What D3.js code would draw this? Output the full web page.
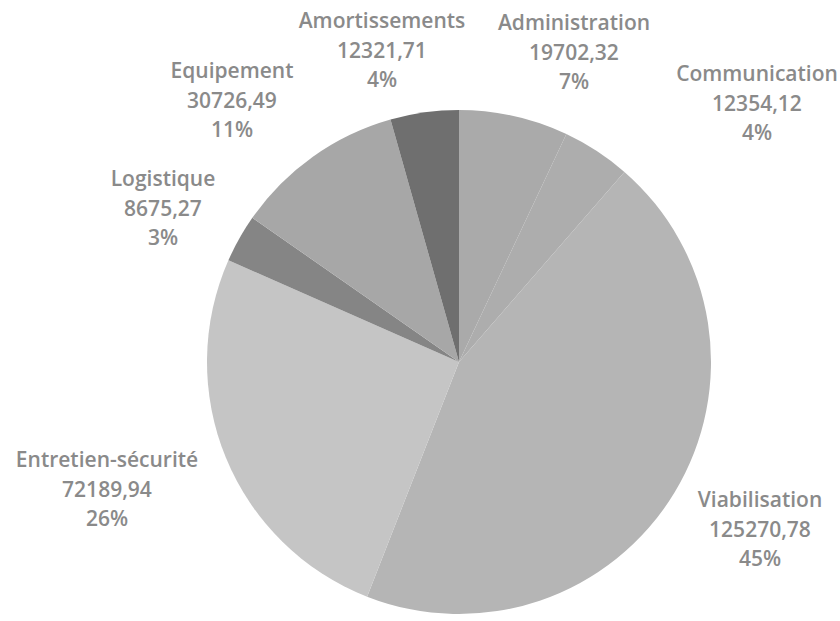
<!DOCTYPE html>
<html>
<head>
<meta charset="utf-8">
<script src="https://cdn.jsdelivr.net/npm/d3@7"></script>
<style>
  html, body { margin: 0; padding: 0; background: #ffffff; }
  svg { display: block; }
  .lbl { font-family: "Open Sans", Lato, sans-serif; font-weight: 600; font-size: 21px; fill: #8a8a8a; }
</style>
</head>
<body>
<svg id="chart" width="840" height="621"></svg>
<script>
// Budget categories, clockwise from 12 o'clock
const categories = ["Administration", "Communication", "Viabilisation", "Entretien-sécurité", "Logistique", "Equipement", "Amortissements"];
const values = [19702.32, 12354.12, 125270.78, 72189.94, 8675.27, 30726.49, 12321.71];
const valueLabels = ["19702,32", "12354,12", "125270,78", "72189,94", "8675,27", "30726,49", "12321,71"];
const percentLabels = ["7%", "4%", "45%", "26%", "3%", "11%", "4%"];

// Slice fills (grey palette)
const fills = ["#aaaaaa", "#adadad", "#b5b5b5", "#c5c5c5", "#858585", "#a7a7a7", "#6f6f6f"];
// Label block centres (x, y of first line)
const labelPos = [[574, 22], [757, 73], [760, 499], [107, 459], [163, 178], [232, 70], [382, 20]];

const svg = d3.select("#chart");
const cx = 459, cy = 362, radius = 252;

const data = categories.map((c, i) => ({ name: c, value: values[i], i }));
const pie = d3.pie().value(d => d.value).sort(null).startAngle(0).endAngle(2 * Math.PI);
const arc = d3.arc().innerRadius(0).outerRadius(radius);

const g = svg.append("g").attr("transform", `translate(${cx},${cy})`);
g.selectAll("path")
  .data(pie(data))
  .join("path")
  .attr("d", arc)
  .attr("fill", d => fills[d.data.i])
  .attr("stroke", "none");

const lineH = 29.5;
const labels = svg.append("g");
data.forEach((d, i) => {
  const [x, y] = labelPos[i];
  const t = labels.append("text")
    .attr("class", "lbl")
    .attr("text-anchor", "middle")
    .attr("x", x)
    .attr("y", y)
    .attr("dominant-baseline", "central");
  [d.name, valueLabels[i], percentLabels[i]].forEach((s, k) => {
    t.append("tspan").attr("x", x).attr("y", y + k * lineH).text(s);
  });
});
</script>
</body>
</html>
